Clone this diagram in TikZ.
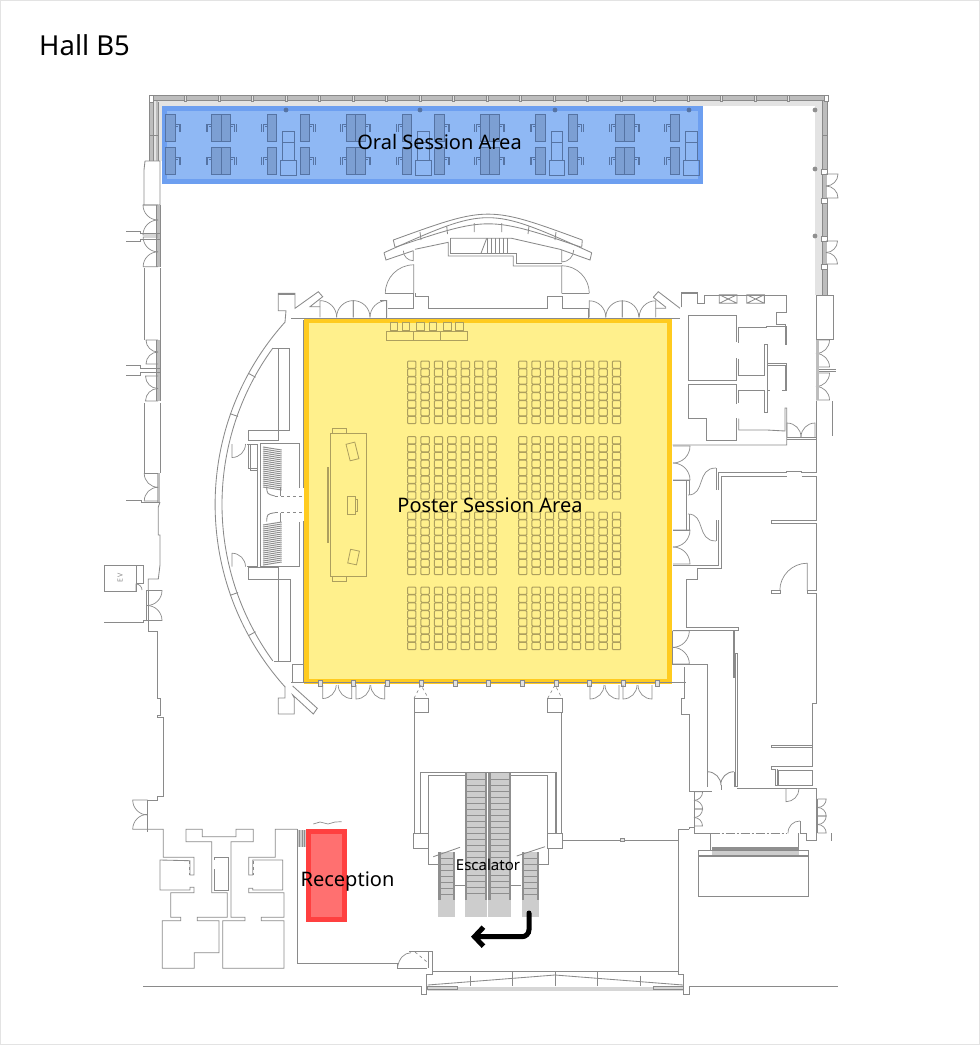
\documentclass[tikz,border=0pt]{standalone}
\usepackage{fontspec}
\setmainfont{Noto Sans}
\usetikzlibrary{arrows.meta}
\definecolor{wallGray}{HTML}{8A8A8A}
\definecolor{bandGray}{HTML}{E3E3E3}
\definecolor{glassGray}{HTML}{BDBDBD}
\definecolor{stepGray}{HTML}{CDCDCD}
\definecolor{railGray}{HTML}{8F8F8F}
\definecolor{oralEdge}{HTML}{6D9FF0}
\definecolor{oralFill}{HTML}{8FB8F4}
\definecolor{deskFill}{HTML}{7C9FD3}
\definecolor{deskLine}{HTML}{5573A3}
\definecolor{posterEdge}{HTML}{FFCB1F}
\definecolor{posterFill}{HTML}{FFF08C}
\definecolor{seatLine}{HTML}{AD9F5E}
\definecolor{receptionEdge}{HTML}{FF4040}
\definecolor{receptionFill}{HTML}{FF7070}
%% A door: the hinge, the angle of the leaf, the angle where the swing ends, the width.
\newcommand{\doorSwing}[5]{%%
  \draw[doorStyle] (#1,#2) -- ++(#3:#5) arc (#3:#4:#5);
}
%% Two doors on a vertical wall, opening left (180) or right (0).
\newcommand{\doubleLeft}[3]{%%
  \pgfmathsetmacro{\doorR}{(#3-#2)/2}
  \doorSwing{#1}{#2}{180}{90}{\doorR}
  \doorSwing{#1}{#3}{180}{270}{\doorR}
}
\newcommand{\doubleRight}[3]{%%
  \pgfmathsetmacro{\doorR}{(#3-#2)/2}
  \doorSwing{#1}{#2}{0}{90}{\doorR}
  \doorSwing{#1}{#3}{0}{-90}{\doorR}
}
%% A desk with the chair beside it: left edge, top, side of the chair (+1 or -1).
\newcommand{\deskUnit}[3]{%%
  \draw[deskStyle] (#1,#2) rectangle ++(9.5,27.5);
  \pgfmathsetmacro{\chairX}{#1+4.75+#3*4.75}
  \draw[chairStyle] (\chairX,#2+10) -- ++(#3*4,0) -- ++(0,8) (\chairX,#2+12) -- ++(#3*2.5,0)
    (\chairX+#3*5.5,#2+10) -- ++(0,8);
}
%% Two rows of desks.
\newcommand{\deskColumn}[2]{%%
  \deskUnit{#1}{114.3}{#2}
  \deskUnit{#1}{147.3}{#2}
}
\newcommand{\podiumUnit}[1]{%%
  \draw[podiumStyle] (#1,131.7) rectangle ++(11.7,28.3);
  \draw[podiumStyle] (#1,142) -- ++(11.7,0);
  \draw[podiumStyle] (#1-2,160) rectangle ++(15.7,15);
}
%% A block of seats: left edge, top, number of columns.
\newcommand{\seatBlock}[3]{%%
  \foreach \col in {1,...,#3} {
    \foreach \row in {1,...,8} {
      \draw[seatStyle] ({#1+13.4*(\col-1)},{#2+7.9*(\row-1)}) rectangle ++(8.4,7.4);
    }
  }
}
%% An escalator: left edge, right edge, top.
\newcommand{\escalatorUnit}[3]{%%
  \fill[stepGray] (#1,#3) rectangle (#2,917);
  \fill[railGray] (#1,#3) rectangle ({#1+2.2},900);
  \fill[railGray] ({#2-2.2},#3) rectangle (#2,900);
  \pgfmathsetmacro{\stepOne}{#3+6}
  \pgfmathsetmacro{\stepTwo}{#3+12}
  \foreach \y in {\stepOne,\stepTwo,...,896} {
    \draw[railGray,line width=0.6pt] (#1,\y) -- (#2,\y);
  }
}

\begin{document}
\begin{tikzpicture}[%%
  x=1pt,y=-1pt,
  font=\fontsize{20}{24}\selectfont,
  wallStyle/.style={draw=wallGray,line width=0.85pt},
  doorStyle/.style={draw=wallGray,line width=0.7pt},
  thickWall/.style={draw=wallGray,line width=1.3pt},
  mullionStyle/.style={draw=wallGray,fill=bandGray,line width=0.6pt},
  deskStyle/.style={draw=deskLine,fill=deskFill,line width=0.7pt},
  chairStyle/.style={draw=deskLine,line width=0.9pt},
  podiumStyle/.style={draw=deskLine,line width=0.7pt},
  seatStyle/.style={draw=seatLine,line width=1pt,rounded corners=1pt},
  postStyle/.style={draw=seatLine,line width=0.8pt},
  labelStyle/.style={text=black,inner sep=0pt},
  arrowStyle/.style={draw=black,line width=5pt,rounded corners=7pt,line cap=round,
    -{Straight Barb[length=9pt,width=19pt,line width=5pt]}}
]
\useasboundingbox (0,0) rectangle (980,1045);
\draw[draw=bandGray,line width=1pt] (0.5,0.5) rectangle (979.5,1044.5);
%%
%% The title.
\node[labelStyle,anchor=base west,font=\fontsize{27.5}{32}\selectfont] (hallTitle) at (39,55) {Hall B5};
%%
%% The light band along the glass walls.
\fill[bandGray] (153,100) rectangle (825,106);
\fill[bandGray] (153,100) rectangle (162,161);
\fill[bandGray] (815,100) rectangle (824,295);
%%
%% The two coloured areas go under the plan.
\fill[oralEdge] (162,106) rectangle (702.7,184.3);
\fill[oralFill] (167,111) rectangle (698,179);
\fill[posterEdge] (303.5,318) rectangle (672,684);
\fill[posterFill] (309,322.5) rectangle (667,679);
\fill[receptionEdge] (306,829) rectangle (346.7,921.7);
\fill[receptionFill] (311,834) rectangle (342,917);
%%
%% Top and right glass wall.
\fill[glassGray] (149,95.5) rectangle (827,100);
\fill[glassGray] (149,100) rectangle (158,161);
\fill[glassGray] (822,100) rectangle (827,295);
\fill[bandGray] (153,100) rectangle (155.5,161);
\draw[wallStyle] (149,95.5) -- (827,95.5) (149,100) -- (827,100);
\foreach \x in {185.7,219.2,...,800} {
  \draw[mullionStyle] (\x-1,95) rectangle (\x+1,101);
}
\draw[wallStyle,fill=white] (149,95) rectangle (153,102);
\draw[wallStyle,fill=white] (824,95) rectangle (828,101);
\draw[wallStyle] (149,102) -- (149,161) (153,102) -- (153,161) (158,102) -- (158,161);
\draw[wallStyle] (149,135) -- (158,135);
\draw[wallStyle] (822,101) -- (822,295) (827,101) -- (827,170) (827,198) -- (827,241) (827,264) -- (827,295);
\draw[wallStyle] (822,135) -- (827,135);
\draw[wallStyle,fill=white] (821,169) rectangle (827,174) (821,198) rectangle (827,203)
  (821,236) rectangle (827,241) (821,264) rectangle (827,269);
\doubleRight{826}{174}{198}
\doubleRight{826}{241}{264}
\foreach \x in {286,420,555,689} {
  \fill[deskLine] (\x,110) circle (2.4);
}
\foreach \y in {110,169,236} {
  \fill[railGray] (815,\y) circle (2.4);
}
%%
%% The desks of the oral session.
\deskColumn{165.7}{1}
\deskColumn{211.7}{-1}
\deskColumn{221}{1}
\deskColumn{267.3}{-1}
\deskColumn{300}{1}
\podiumUnit{282.7}
\deskColumn{346}{-1}
\deskColumn{355.5}{1}
\deskColumn{402}{-1}
\deskColumn{434.7}{1}
\podiumUnit{417.5}
\deskColumn{480}{-1}
\deskColumn{489.5}{1}
\deskColumn{535.5}{-1}
\deskColumn{568}{1}
\podiumUnit{551}
\deskColumn{615}{-1}
\deskColumn{624.5}{1}
\deskColumn{670}{-1}
\podiumUnit{685.7}
%%
%% West wall.
\draw[wallStyle] (145,161) -- (160,161) (144,170) -- (145,161) (144,170) -- (144,205)
  (160,161) -- (160,205) (143,205) -- (160,205);
\fill[glassGray] (156.7,205) rectangle (160,266.7);
\fill[glassGray] (156.7,340) rectangle (160,401);
\fill[glassGray] (156.7,473) rectangle (160,502);
\draw[wallStyle] (156.7,205) -- (156.7,266.7) (160,205) -- (160,266.7);
\draw[wallStyle] (156.7,340) -- (156.7,401) (160,340) -- (160,401);
\doubleLeft{158}{205}{235}
\doubleLeft{158}{237}{266.7}
\doubleLeft{158}{340}{364}
\doubleLeft{158}{376}{401}
\doubleLeft{158}{473.5}{501}
\draw[wallStyle] (126,231) -- (140,231) -- (140,233) -- (160,233) (126,241.7) -- (140,241.7) -- (140,239) -- (160,239);
\draw[wallStyle] (126,365.7) -- (140,365.7) -- (140,368) -- (160,368) (126,375.7) -- (140,375.7) -- (140,372) -- (160,372);
\draw[wallStyle] (126,500) -- (141,500) -- (141,502) -- (160,502);
\draw[wallStyle] (144,268) -- (144,340) (160,268) -- (160,340);
\draw[wallStyle] (144,403) -- (144,473) (160,403) -- (160,473);
\draw[wallStyle] (160,502) -- (158.3,507) -- (158.3,535) -- (160,535) -- (160,565)
  -- (158.3,579) -- (148.3,579) -- (148.3,590);
\draw[wallStyle] (148.3,590) -- (148.3,631.7) -- (157.3,631.7) -- (157.3,698.3) -- (160,698.3)
  -- (160,715) -- (157.3,715) -- (157.3,717.3) -- (163.3,717.3) -- (163.3,796) -- (157.3,796)
  -- (157.3,800) -- (147.7,800);
\doubleRight{147}{590.5}{620.5}
\draw[wallStyle] (104,565.7) rectangle (136,591.3) (136,565.7) rectangle (143.3,583.3);
\draw[doorStyle] (136,591.3) -- (136,584) arc (270:360:6);
\node[labelStyle,rotate=90,text=wallGray,font=\fontsize{7}{8}\selectfont] (evLabel) at (120,578) {E V};
\draw[wallStyle] (104,622.3) -- (143.3,622.3) -- (143.3,620) -- (146,620) -- (146,590);
%%
%% Curved wall, west of the hall.
\draw[wallStyle] (488,504.5) ++(138:272.9) arc (138:222:272.9);
\draw[wallStyle] (488,504.5) ++(144:266) arc (144:216:266);
\foreach \ang in {208.7,199.4,160.6,151.3} {
  \draw[wallStyle] (488,504.5) ++(\ang:265) -- ++(\ang:8.5);
}
\draw[wallStyle] (285,322) -- (286,310.7) -- (278.3,310.7) -- (278.3,293.3) -- (295,293.3) -- (295,308.3)
  -- (318.3,291.7) -- (322.7,296.7) -- (310,306.7) -- (320,306.7);
\draw[thickWall] (278.3,294) -- (295,294);
\draw[wallStyle] (285,686.7) -- (285,698) -- (278.3,698) -- (278.3,714) -- (294.3,714) -- (294.3,698) -- (292.7,695)
  -- (313.3,714) -- (317.3,708.3) -- (292.7,686);
\draw[wallStyle] (273.3,348) -- (289.3,348) -- (289.3,430) -- (248.3,430) -- (248.3,440.7) -- (278.3,440.7) -- (278.3,348);
\draw[wallStyle] (248.3,567.3) -- (248.3,579) -- (290,579) -- (290,661.7) -- (274,661.7);
\draw[wallStyle] (248.3,567.3) -- (278.3,567.3) -- (278.3,661.7);
\draw[wallStyle] (246.7,444) -- (257.7,444) -- (257.7,566.7) -- (246.7,566.7);
\draw[wallStyle] (260,443.3) -- (260,566.7) (260,443.3) -- (299.3,443.3) -- (299.3,488.3);
\draw[wallStyle] (260,566.7) -- (299.3,566.7) -- (299.3,521.7);
\draw[wallStyle] (248,445) -- (248,468.5) -- (257.7,468.5) (250,445) -- (250,470) -- (257.7,470);
\doorSwing{232}{444}{90}{0}{13.5}
\doorSwing{232}{566.7}{-90}{0}{13.5}
\foreach \y in {0,2,...,40} {
  \draw[railGray,line width=1pt] (263,{447+\y}) -- (281.7,{450+\y});
  \draw[railGray,line width=1pt] (263,{525+\y}) -- (281.7,{522+\y});
}
\draw[wallStyle] (266.7,486.7) .. controls (267,494) .. (275,496);
\draw[wallStyle] (266.7,521.7) .. controls (267,514) .. (275,512.7);
\draw[wallStyle,dashed] (275,496) -- (303,496) (275,512.7) -- (303,512.7);
\draw[wallStyle] (280,486.7) -- (280,496) (280,512.7) -- (280,521.7);
\draw[wallStyle] (303,320) -- (303,488) (303,521) -- (303,682);
\draw[wallStyle] (303,664) -- (292.7,664) -- (292.7,682);
%%
%% The north entrance.
\draw[wallStyle] (393.3,240) .. controls (488.3,205.5) .. (582.3,240);
\draw[wallStyle] (395,247.3) .. controls (488.3,216) .. (581.7,247.3);
\draw[wallStyle] (393.3,240) -- (395,247.3) (582.3,240) -- (581.7,247.3);
\draw[wallStyle] (420,232) -- (421,240) (446.7,226) -- (447.5,234) (474.3,223) -- (474.3,232)
  (501.7,223) -- (501.7,232) (529,226) -- (528,234) (556,232) -- (555,240);
\draw[wallStyle] (384,252.7) .. controls (488,206) .. (591.7,252.7);
\draw[wallStyle] (384,252.7) -- (386,260) -- (413.3,250.7);
\draw[wallStyle] (591.7,252.7) -- (590,260) -- (560,249.3);
\draw[wallStyle] (415,249.3) -- (448.3,242.3) -- (448.3,256) -- (513.3,256) -- (513.3,266) -- (561.7,266);
\draw[wallStyle] (450.7,238.3) -- (511.7,238.3) -- (560,249.3);
\draw[wallStyle] (450.7,238.3) -- (450.7,253.3) -- (516.7,253.3) -- (516.7,263.3) -- (561.7,263.3);
\foreach \x in {487,491,...,510} {
  \draw[wallStyle,line width=0.6pt] (\x,238.3) -- (\x,253.3);
}
\draw[wallStyle] (486.7,238.3) -- (481,253.3);
\doorSwing{413.3}{250.7}{90}{180}{10}
\doorSwing{561.7}{250}{90}{0}{12}
\doorSwing{413.8}{293.3}{-90}{-180}{28.5}
\draw[wallStyle] (385,293.3) -- (413.8,293.3);
\doorSwing{561.7}{293.3}{-90}{0}{27.6}
\draw[wallStyle] (561.7,293.3) -- (589.3,293.3);
\draw[wallStyle] (386.7,300) -- (380,300) (386.7,300) -- (386.7,318)
  (387.5,308.3) -- (413.3,308.3) -- (413.3,293.3)
  (415.3,293.3) -- (415.3,296) -- (428.3,296) -- (428.3,308.3) -- (547.7,308.3) -- (547.7,296) -- (561.7,296)
  (562.7,296) -- (562.7,308.3) -- (588.3,308.3) -- (588.3,318);
\doorSwing{320}{317.3}{-90}{0}{16.7}
\doorSwing{353.3}{317.3}{-90}{-180}{16.7}
\doorSwing{353.3}{317.3}{-90}{0}{16.7}
\doorSwing{386.7}{317.3}{-90}{-180}{16.7}
\doorSwing{589.3}{317.3}{-90}{0}{16.5}
\doorSwing{622.3}{317.3}{-90}{-180}{16.5}
\doorSwing{622.3}{317.3}{-90}{0}{16.5}
\doorSwing{655.7}{317.3}{-90}{-180}{16.5}
\draw[wallStyle] (653.3,297.3) -- (658.3,291.7) -- (680,308.3) (653.3,297.3) -- (666,307.3)
  (655.7,308.3) -- (666,308.3);
\draw[wallStyle] (291,318.5) -- (680,318.5);
%%
%% Things that stand on the poster area.
\draw[postStyle] (330,433.3) rectangle (366.7,576.7);
\draw[postStyle] (332.3,428.3) rectangle (346,433.3) (332.3,576.7) rectangle (346,581.7);
\fill[seatLine] (326.7,466.7) rectangle (329.3,543.3);
\draw[postStyle,rotate around={14:(352.3,451.7)}] (348,443) rectangle (357,460);
\draw[postStyle] (347,496) rectangle (355,514) (355,499) -- (357,499) -- (357,511) -- (355,511);
\draw[postStyle,rotate around={-12:(353.3,557.3)}] (349,550) rectangle (358,564);
\draw[postStyle] (386.7,331.7) rectangle (467.3,340.7) (413.3,331.7) -- (413.3,340.7) (440.7,331.7) -- (440.7,340.7);
\foreach \x in {390,402,416.7,429,443.3,455.7} {
  \draw[postStyle] (\x,322.3) rectangle ++(7.7,7.7);
}
\seatBlock{407.5}{361}{7}
\seatBlock{518.5}{361}{8}
\seatBlock{407.5}{436.5}{7}
\seatBlock{518.5}{436.5}{8}
\seatBlock{407.5}{512}{7}
\seatBlock{518.5}{512}{8}
\seatBlock{407.5}{587}{7}
\seatBlock{518.5}{587}{8}
%%
%% South side of the hall.
\draw[wallStyle] (291,682.5) -- (686,682.5);
\foreach \x in {320,353.7,...,660} {
  \draw[mullionStyle] (\x-2,680.5) rectangle (\x+2,686);
}
\doorSwing{322.7}{685}{90}{0}{13.5}
\doorSwing{351.7}{685}{90}{180}{13.5}
\doorSwing{356}{685}{90}{0}{14}
\doorSwing{384.7}{685}{90}{180}{14}
\doorSwing{590}{685}{90}{0}{14}
\doorSwing{619}{685}{90}{180}{14}
\doorSwing{623}{685}{90}{0}{14}
\doorSwing{652}{685}{90}{180}{14}
\draw[wallStyle] (414,698.3) rectangle (428.3,712.7) (547.7,698.3) rectangle (562,712.7);
\draw[wallStyle,dashed,line width=0.6pt] (414,698.3) -- (421,685) -- (428.3,698.3);
\draw[wallStyle,dashed,line width=0.6pt] (547.7,698.3) -- (555,685) -- (562,698.3);
\draw[wallStyle] (414.3,712.7) -- (414.3,833.3) (561.7,712.7) -- (561.7,833.3);
\draw[thickWall] (428.3,833.3) -- (428.3,775.5) -- (465,775.5) (420.3,833.3) -- (420.3,772.5) -- (556,772.5) -- (556,833.3)
  (547.7,833.3) -- (547.7,775.5) -- (511,775.5);
%%
%% The escalators.
\escalatorUnit{465}{487.3}{773}
\escalatorUnit{488.3}{511}{773}
\escalatorUnit{438.3}{455}{852}
\escalatorUnit{521.7}{539.3}{852}
\draw[wallStyle] (413.3,833.3) rectangle (428.3,848.3) (547.7,833.3) rectangle (562.7,848.3);
\draw[wallStyle] (428.3,848.3) -- (428.3,864) -- (438.3,864) (548.3,848.3) -- (548.3,864) -- (539.3,864);
\draw[wallStyle] (433.3,856.7) -- (460,847.3) (516.7,856) -- (545,846.7);
\draw[wallStyle] (455,885) -- (465,885) (511,885) -- (521,885);
\draw[thickWall] (562.7,840.5) -- (678.3,840.5);
\draw[mullionStyle] (620,838.5) rectangle (624,841.5);
%%
%% Reception corner.
\fill[stepGray] (297.3,830) rectangle (306,846.7);
\foreach \x in {299.5,302,304.5} {
  \draw[railGray,line width=0.6pt] (\x,830) -- (\x,846.7);
}
\draw[doorStyle] (313.3,824) -- (320,822) -- (328,824) -- (335,822) -- (341.7,821.7);
\draw[wallStyle] (297.3,829.3) -- (297.3,963.3) -- (397.3,963.3) -- (397.3,968.3) -- (427,968.3);
\draw[doorStyle] (397.3,968.3) .. controls (399,958) and (404,953) .. (411,952.7);
\draw[wallStyle] (409.3,951.7) -- (432.7,951.7) -- (432.7,972.7) (428.3,951.7) -- (428.3,968.3);
\draw[doorStyle,dashed] (415,952) -- (428.3,963);
%%
%% The south-west rooms.
\doorSwing{147.7}{800}{180}{90}{15}
\doorSwing{147.7}{829.3}{180}{270}{15}
\draw[wallStyle] (147.7,800) -- (147.7,831.7);
\draw[wallStyle] (147.7,829.3) -- (163.3,829.3) -- (163.3,857.3) -- (194,857.3) -- (194,875) -- (190,875)
  -- (190,860.7) -- (160,860) -- (160,890) -- (190,890) -- (190,887.3) -- (194,887.3) -- (194,892.7)
  -- (170.7,892.7) -- (170.7,917.3) -- (180.7,917.3) -- (180.7,920.7) -- (162.3,920.7) -- (162.3,968.3)
  -- (194.3,968.3) -- (194.3,952.7) -- (219,952.7) -- (219,920.7) -- (197.3,920.7) -- (197.3,917.3)
  -- (227.3,917.3) -- (227.3,892.7) -- (211.7,892.7) -- (211.7,841.7) -- (186,841.7) -- (186,829.3)
  -- (202.3,829.3) -- (202.3,836.7) -- (236,836.7) -- (236,829.3) -- (253.3,829.3) -- (253.3,841.7)
  -- (231,841.7) -- (231,917.3) -- (245,917.3) -- (245,920.7) -- (222.7,920.7) -- (222.7,968.3)
  -- (284,968.3) -- (284,920.7) -- (261.3,920.7) -- (261.3,917.3) -- (284,917.3) -- (284,892.7)
  -- (248.7,892.7) -- (248.7,888.3) -- (252.7,888.3) -- (252.7,890) -- (282.7,890) -- (282.7,860)
  -- (252.7,860) -- (252.7,875) -- (248.7,875) -- (248.7,857.3) -- (275.3,857.3) -- (275.3,829.3) -- (297.3,829.3);
\draw[wallStyle] (214.3,869.3) -- (214.3,890) -- (228.3,890) -- (228.3,857.3) -- (214.3,857.3) -- (214.3,860);
\draw[wallStyle,dashed,line width=0.6pt] (189,861) -- (189,875) (253.5,861) -- (253.5,875);
%%
%% The south wall.
\draw[wallStyle] (143,986.5) -- (421.7,986.5) -- (421.7,994) -- (426.7,994) -- (426.7,974) -- (432.3,974) -- (432.3,971)
  -- (678.3,971) -- (678.3,974) -- (683.3,974) -- (683.3,994) -- (689.3,994) -- (689.3,986.5) -- (838,986.5);
\draw[wallStyle] (427.7,985) -- (555,975) -- (683,985) (427.7,988) -- (683,988) (427.7,990) -- (683,990);
\draw[wallStyle] (470,975.5) -- (470,985.7) (512.7,972) -- (512.7,985.7) (555,972) -- (555,985.7)
  (597.7,972) -- (597.7,985.7) (640,975.5) -- (640,985.7);
\draw[wallStyle] (427.7,986) rectangle (457,989) (653,986) rectangle (683,989);
%%
%% The east rooms.
\draw[wallStyle] (736,342) -- (736,315.7) -- (688.7,315.7) -- (688.7,380) -- (736,380) -- (736,358);
\draw[wallStyle] (736,404) -- (736,384.7) -- (688.7,384.7) -- (688.7,418) -- (706.7,418) -- (706.7,440) -- (736,440) -- (736,418);
\draw[wallStyle] (738.7,342.7) -- (738.7,327.3) -- (766.7,327.3) -- (766.7,326) -- (785,326) -- (785,345) (786.7,326) -- (786.7,345);
\draw[wallStyle] (738.7,358.7) -- (738.7,375.3) -- (764.7,375.3) -- (764.7,344) -- (767.3,344) -- (767.3,412.7)
  -- (764.7,412.7) -- (764.7,390.7) -- (738.7,390.7) -- (738.7,403.3);
\draw[wallStyle] (767.3,363.3) -- (786.7,363.3) -- (786.7,390) -- (782,390) (767.3,365.5) -- (785,365.5) -- (785,390)
  (767.3,390) -- (770,390);
\draw[wallStyle] (738.7,418.7) -- (738.7,430) -- (767,430) -- (785,431) -- (785,408) -- (786.7,408) -- (786.7,445) -- (672.7,445);
\draw[wallStyle] (681.7,307.3) -- (681.7,292.7) -- (697.3,292.7) -- (697.3,303.3) -- (704.7,303.3) -- (704.7,295.3)
  -- (786.7,295.3) -- (786.7,312) -- (776.7,312) -- (776.7,324) -- (785,324) -- (785,326);
\draw[thickWall] (681.7,293) -- (697.3,293);
\foreach \x in {719.3,746.7} {
  \draw[wallStyle] (\x,294.7) rectangle ++(17.7,8.6) (\x,294.7) -- ++(17.7,8.6) (\x,303.3) -- ++(17.7,-8.6);
}
%% The east wall with its doors.
\draw[wallStyle] (816,295) rectangle (833,339);
\doubleRight{816}{340}{367}
\doubleRight{816}{373}{400}
\draw[wallStyle] (816,369) -- (836,369) (816,371) -- (836,371);
\fill[glassGray] (816,340) rectangle (818.5,400);
\draw[wallStyle] (816,401) -- (816,472.7) (832,401) -- (832,436);
\draw[wallStyle] (787,437) -- (816,437) (787,439) -- (816,439);
\doorSwing{787}{437}{-90}{0}{14}
\doorSwing{815}{437}{-90}{-180}{14}
%% Corridor east of the poster area.
\doubleRight{673}{446}{480}
\doubleRight{673}{530}{564}
\draw[wallStyle] (673,480) -- (689,480) -- (689,495) (686.7,480) -- (686.7,530) (673,530) -- (689,530) -- (689,514);
\draw[doorStyle] (688,495) .. controls (706,495) and (696,468) .. (716,468);
\draw[doorStyle] (688,514) .. controls (706,514) and (696,541) .. (716,541);
\draw[wallStyle] (716,468) -- (716,490) (716,520) -- (716,541);
\draw[wallStyle] (718.3,490) -- (718.3,472.7) -- (786.7,472.7) -- (786.7,471) -- (801.7,471) -- (801.7,472.7) -- (816.7,472.7);
\draw[wallStyle] (721.7,568.3) -- (721.7,476.7) -- (786.7,476.7) (801.7,476.7) -- (816.7,476.7) -- (816.7,520.7) -- (771.3,520.7)
  -- (771.3,523.3) -- (816.7,523.3) -- (816.7,590.7) -- (807.3,590.7) -- (807.3,593.3) -- (816.7,593.3) -- (816.7,703.3)
  -- (812.7,703.3) -- (812.7,745);
\draw[wallStyle] (718.3,520) -- (718.3,565) -- (672.7,565);
\draw[wallStyle] (721.7,568.3) -- (697.3,568.3) -- (697.3,579) -- (686.7,579) -- (686.7,627.3) -- (738.3,627.3) -- (738.3,630.7) -- (672.7,630.7);
\draw[wallStyle] (771.3,590.7) rectangle (780,593.3);
\doorSwing{807.3}{590.7}{-90}{-180}{27.5}
\doubleRight{672.7}{630.7}{664}
\draw[wallStyle] (672.7,630.7) -- (672.7,664) -- (707.3,664) -- (707.3,786.7);
\draw[thickWall] (734,630.7) -- (734,678);
\draw[wallStyle] (735,653.3) -- (735,786.7) -- (737.3,786.7) -- (737.3,653.3) -- cycle;
\draw[wallStyle] (684,667) -- (684,698) -- (681.7,698) -- (681.7,714) -- (689.3,714) -- (689.3,791.3);
\draw[wallStyle] (707.3,771.7) arc (-90:0:13.7) (734,771.7) arc (-90:-180:13.3);
\draw[wallStyle] (707.3,771.7) -- (707.3,785) (734,771.7) -- (734,786.7);
\draw[wallStyle] (721,785) -- (721,790);
\draw[wallStyle] (737.3,788.7) -- (816.7,788.7) -- (816.7,830.7) (816.7,840) -- (806,840) -- (806,833.3) -- (800,833.3) -- (800,821)
  (816.7,830.7) -- (816.7,840);
\draw[wallStyle] (694,791) -- (694,833.3) -- (710.7,833.3) -- (710.7,850) (798.3,833.3) -- (798.3,850);
\draw[wallStyle] (689.3,791) -- (712,791);
\doubleRight{694}{791.7}{809}
\doubleRight{694}{809}{826}
\draw[wallStyle,dash pattern=on 9pt off 2pt on 2pt off 2pt] (710.7,833.3) -- (786.7,833.3);
\draw[doorStyle] (788,833.3) .. controls (788,826) and (793,821) .. (800,821);
\doorSwing{786}{788.7}{90}{0}{13}
\doubleRight{817.7}{799}{816}
\doubleRight{817.7}{816}{833}
\draw[wallStyle] (817.7,799) -- (817.7,833) (831,833) -- (831,841);
\draw[wallStyle] (771.3,745) -- (812.7,745) -- (812.7,766.7) -- (771.3,766.7) -- (771.3,769.3) -- (775,769.3) -- (775,785.7) -- (777,785.7) -- (777,769.3);
\draw[wallStyle] (771.3,745) -- (771.3,747.7) -- (812.7,747.7);
\draw[wallStyle] (778.3,770.7) rectangle (812.7,785.7);
\fill[railGray] (711.7,846.7) rectangle (799.3,851);
\fill[stepGray] (711.7,851) rectangle (799.3,855);
\draw[thickWall] (698.3,856) rectangle (808.3,896.7);
\draw[wallStyle] (698.3,850.7) rectangle (808.3,856);
\draw[wallStyle] (689.3,829.3) -- (678.3,829.3) -- (678.3,971);
\draw[wallStyle] (689.3,829.3) -- (689.3,827) -- (694,827);
%%
%% The way out of the escalator.
\coordinate (arrowStart) at (529,913);
\coordinate (arrowBend) at (529,936.7);
\coordinate (arrowEnd) at (471,936.7);
\draw[arrowStyle] (arrowStart) -- (arrowBend) -- (arrowEnd);
%%
%% The labels.
\node[labelStyle] (oralLabel) at (439.5,142) {Oral Session Area};
\node[labelStyle] (posterLabel) at (490,505) {Poster Session Area};
\node[labelStyle] (receptionLabel) at (347.5,882) {Reception};
\node[labelStyle,font=\fontsize{15}{18}\selectfont] (escalatorLabel) at (488,865) {Escalator};
\end{tikzpicture}
\end{document}
